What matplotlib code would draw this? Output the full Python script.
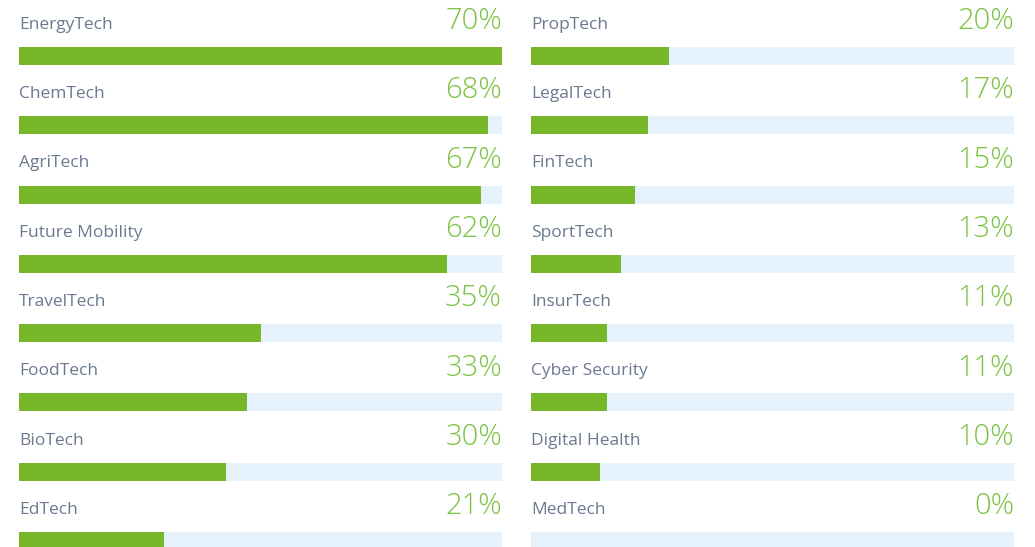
import matplotlib.pyplot as plt
import numpy as np

leftNames = ['EnergyTech', 'ChemTech', 'AgriTech', 'Future Mobility',
             'TravelTech', 'FoodTech', 'BioTech', 'EdTech']
leftValues = [70, 68, 67, 62, 35, 33, 30, 21]
rightNames = ['PropTech', 'LegalTech', 'FinTech', 'SportTech',
              'InsurTech', 'Cyber Security', 'Digital Health', 'MedTech']
rightValues = [20, 17, 15, 13, 11, 11, 10, 0]
scaleMax = 70

barColor = '#76b82a'
trackColor = '#e6f2fb'
labelColor = '#6b7890'
pctColor = '#7cc242'

W, H = 1035, 547
fig = plt.figure(figsize=(W / 100, H / 100), dpi=100)
fig.patch.set_facecolor('white')

pitch = 69.3
firstCenter = 56.0
yTop = (0 - firstCenter) / pitch
yBottom = (H - firstCenter) / pitch
barH = 18 / pitch


def drawColumn(leftPx, names, values):
    ax = fig.add_axes([leftPx / W, 0, 483 / W, 1])
    rows = np.arange(len(names))
    ax.barh(rows, [scaleMax] * len(names), height=barH, color=trackColor, linewidth=0)
    ax.barh(rows, values, height=barH, color=barColor, linewidth=0)
    for r, name, v in zip(rows, names, values):
        ax.text(0, r - 0.45, name, ha='left', va='center', fontsize=12.5,
                color=labelColor, family='Open Sans')
        ax.text(scaleMax, r - 0.5, f'{v}%', ha='right', va='center', fontsize=21,
                color=pctColor, family='Open Sans', fontweight='light')
    ax.set_xlim(0, scaleMax)
    ax.set_ylim(yBottom, yTop)
    ax.axis('off')


drawColumn(19, leftNames, leftValues)
drawColumn(531, rightNames, rightValues)

fig.savefig('out.png', dpi=100, facecolor='white')
